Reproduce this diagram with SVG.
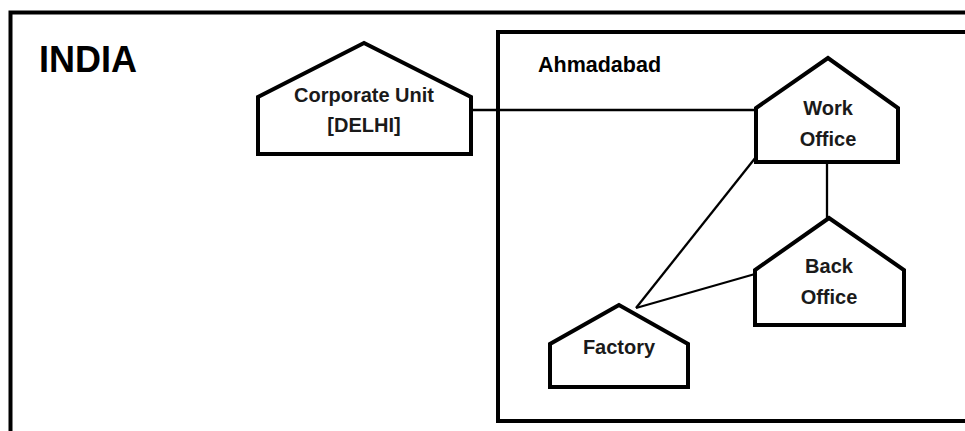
<svg xmlns="http://www.w3.org/2000/svg" width="965" height="431" viewBox="0 0 965 431">
<style>
.frame{fill:none;stroke:#000;stroke-width:4}
.house{fill:#fff;stroke:#000;stroke-width:4;stroke-linejoin:miter}
.conn{stroke:#000;stroke-width:2.3;fill:none}
.lbl{font-family:"Liberation Sans",Arial,sans-serif;font-weight:bold;font-size:20px;fill:#1a1a1a;text-anchor:middle}
.big{font-family:"Liberation Sans",Arial,sans-serif;font-weight:bold;font-size:36px;fill:#000}
.area{font-family:"Liberation Sans",Arial,sans-serif;font-weight:bold;font-size:21.5px;fill:#000}
</style>
<rect width="965" height="431" fill="#fff"/>
<g id="india">
<path class="frame" d="M10.5,433 V12.5 H967"/>
<text class="big" x="39" y="72">INDIA</text>
</g>
<g id="ahmadabad">
<path class="frame" d="M967,32 H498 V421 H967"/>
<text class="area" x="538" y="72">Ahmadabad</text>
</g>
<g id="connectors">
<line class="conn" x1="471" y1="110" x2="756" y2="110"/>
<line class="conn" x1="827" y1="162" x2="827" y2="219"/>
<line class="conn" x1="756" y1="157" x2="636" y2="308"/>
<line class="conn" x1="755" y1="274" x2="636" y2="308"/>
</g>
<g id="corporate">
<path class="house" d="M364,43 L258,97 V154 H471 V97 Z"/>
<text class="lbl" x="364" y="102">Corporate Unit</text>
<text class="lbl" x="364" y="132">[DELHI]</text>
</g>
<g id="work-office">
<path class="house" d="M828,58 L756,108 V162 H898 V108 Z"/>
<text class="lbl" x="828" y="115">Work</text>
<text class="lbl" x="828" y="146">Office</text>
</g>
<g id="back-office">
<path class="house" d="M829,218 L755,270 V325 H904 V270 Z"/>
<text class="lbl" x="829" y="273">Back</text>
<text class="lbl" x="829" y="304">Office</text>
</g>
<g id="factory">
<path class="house" d="M619,305 L550,344 V387 H688 V344 Z"/>
<text class="lbl" x="619" y="354">Factory</text>
</g>
</svg>
